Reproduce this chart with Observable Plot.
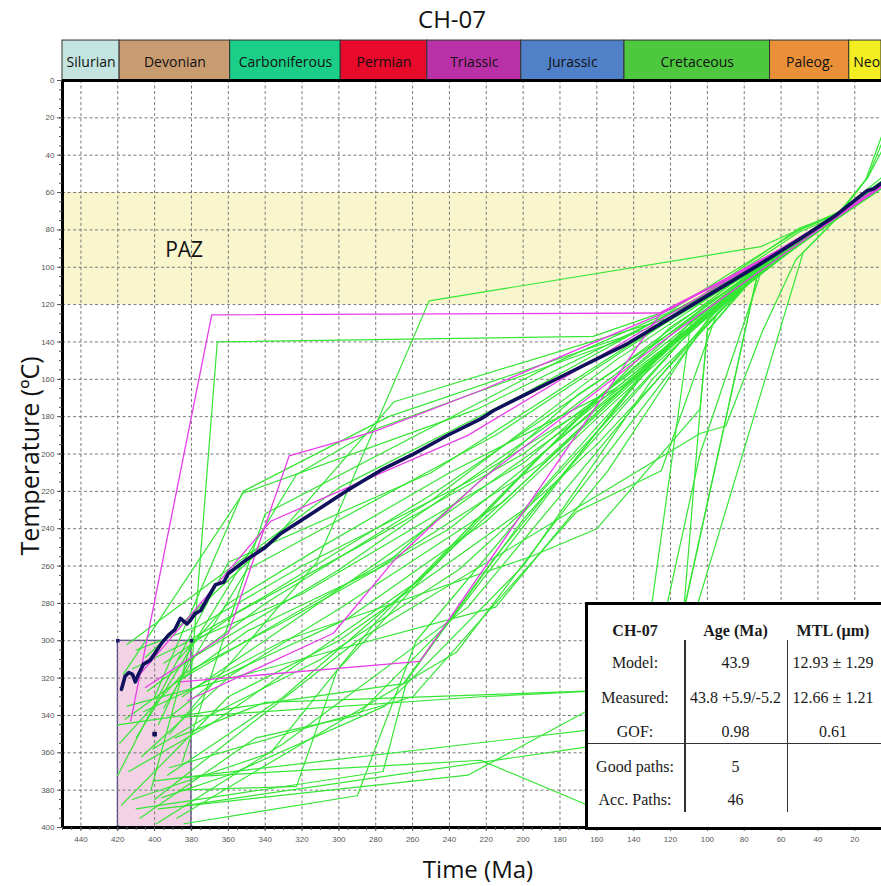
<!DOCTYPE html>
<html><head><meta charset="utf-8">
<script src="https://cdn.jsdelivr.net/npm/d3@7"></script>
<script src="https://cdn.jsdelivr.net/npm/@observablehq/plot@0.6"></script>
<style>
body{margin:0;background:#fff;overflow:hidden}
#wrap{position:relative;width:881px;height:886px;overflow:hidden;background:#fff}
#tbl{position:absolute;left:585px;top:602px;width:330px;height:222px;border:3px solid #000;background:#fff;font-family:"Liberation Serif","Times New Roman",serif;font-size:16px;color:#1a1a1a}
#tbl .c{position:absolute;transform:translate(-50%,-50%);white-space:nowrap}
#tbl .b{font-weight:bold}
#tbl .v{position:absolute;width:1.5px;background:#333}
#tbl .h{position:absolute;height:1.5px;background:#333;left:0;right:0}
</style></head><body><div id="wrap"></div><script>
// ---- data ----
const timeDomain = [450, 5.5];
const tempDomain = [0, 400];
const timeTicks = d3.range(440, 19, -20);
const timeMinorTicks = d3.range(450, 5, -5);
const tempTicks = d3.range(0, 401, 20);
const tempMinorTicks = d3.range(0, 401, 5);
const gridTemps = d3.range(20, 381, 20);

const periodNames = ["Silurian","Devonian","Carboniferous","Permian","Triassic","Jurassic","Cretaceous","Paleog.","Neo"];
const periodStart = [450, 419, 359, 299, 252, 201, 145, 66, 23];
const periodEnd   = [419, 359, 299, 252, 201, 145, 66, 23, 5.5];
const periodColors = ["#c4e4e0","#c89b70","#1bcf88","#e80a2a","#ba30a6","#5080c8","#4ec83e","#ea9038","#f2ee22"];
const headerTemp = [-21.4, 0];

const pazRange = [60, 120];
const pazLabel = {text: "PAZ", t: 384, T: 91};
const startBoxTime = [420, 380];
const startBoxTemp = [300, 400];
const measuredPoint = [400, 350];

const bestPath = [[418,326],[416,319],[414,317],[412,318],[410.5,322],[409,318.5],[406,312.5],[402.5,310.5],[400,307],[396,301],[392.5,297],[389,294],[386,288],[382.5,291],[381,289.5],[378,285.5],[375,283.8],[370,275],[367,270],[362.5,268.6],[360,264],[350,256.5],[340,250],[331.7,242.7],[313.6,231.2],[295.5,219.5],[277.4,208.8],[259.3,199.9],[241.2,190.1],[223,181.2],[216,176.7],[198,167.8],[180,158.9],[161.6,149.9],[143.5,141],[125.4,130.3],[107.4,119.6],[89.2,108.9],[71.2,98.2],[50,85],[30,72],[13.3,59],[9.7,58],[5.5,55]];

const goodPaths = [
 [[413,343],[369,125.5],[125,124.5],[60,92],[28,72],[5.5,57]],
 [[405,325],[360,296],[327,201],[281,188],[223,166],[125,125],[60,90],[28,71],[5.5,56]],
 [[386,322],[256,311],[125,124],[60,91],[28,72],[5.5,57]],
 [[382,332],[303,296],[270,257],[223,214],[125,140],[60,94],[28,72],[5.5,57]],
 [[408,318],[337,236],[300,220],[230,190],[125,128],[60,90],[28,71],[5.5,56]]
];

const accPaths = [
 [[380,316],[366,140],[162,137],[118,122],[50,80],[28,71],[5.5,55]],
 [[392,350],[312,258],[251,118],[71,89],[28,70],[5.5,54]],
 [[400,330],[352,220],[273,180],[130,132],[60,92],[28,72],[5.5,56]],
 [[417,318],[352,221],[225,176],[110,120],[50,79],[28,71],[5.5,55]],
 [[410,352],[323,211],[281,187],[150,140],[62,94],[28,72],[5.5,57]],
 [[385,365],[340,232],[180,150],[100,115],[60,91],[28,70],[5.5,52]],
 [[415,302],[300,218],[200,168],[90,108],[55,88],[28,71],[5.5,54]],
 [[405,309],[330,240],[270,172],[120,127],[50,81],[28,72],[5.5,56]],
 [[395,336],[350,262],[215,190],[120,128],[60,93],[28,73],[5.5,57]],
 [[420,372],[360,258],[250,210],[140,140],[65,96],[28,72],[5.5,55]],
 [[386,380],[323,378],[301,316],[230,240],[120,132],[60,94],[28,72],[5.5,55]],
 [[383,373],[223,364],[141,398],[48,92],[28,72],[5.5,56]],
 [[386,341],[223,330],[122,325],[72,100],[28,71],[5.5,55]],
 [[400,385],[290,300],[104,189],[90,185],[70,134],[52,96],[28,72],[5.5,55]],
 [[398,390],[230,372],[136,322],[109,130],[60,92],[28,71],[5.5,55]],
 [[415,335],[215,282],[154,209],[100,128],[60,93],[28,72],[5.5,56]],
 [[392,368],[260,330],[171,231],[125,209],[95,125],[60,92],[28,72],[5.5,55]],
 [[410,390],[276,370],[263,321],[200,235],[110,135],[60,94],[28,71],[5.5,54]],
 [[388,395],[236,306],[170,220],[100,130],[60,92],[28,73],[5.5,57]],
 [[420,345],[265,323],[215,255],[120,140],[60,95],[28,72],[5.5,56]],
 [[412,385],[337,360],[280,290],[190,200],[100,125],[60,90],[28,71],[5.5,55]],
 [[400,375],[166,348],[120,370],[104,177],[100,134],[70,100],[28,72],[5.5,56]],
 [[382,388],[166,357],[124,335],[72,100],[28,71],[5.5,55]],
 [[418,388],[360,330],[300,300],[200,230],[110,130],[60,92],[28,71],[5.5,55]],
 [[414,370],[370,345],[260,270],[150,170],[70,98],[28,70],[5.5,54]],
 [[408,395],[345,352],[290,340],[240,290],[130,150],[62,94],[28,72],[5.5,56]],
 [[402,380],[380,300],[320,275],[200,205],[110,128],[60,91],[28,71],[5.5,55]],
 [[398,345],[381,310],[300,262],[180,180],[100,120],[58,90],[28,70],[13,52],[5.5,38]],
 [[393,372],[330,330],[250,262],[160,170],[90,115],[60,93],[28,72],[5.5,57]],
 [[388,322],[350,300],[270,255],[170,168],[100,122],[60,91],[28,71],[5.5,55]],
 [[384,398],[290,383],[258,300],[190,220],[110,135],[60,95],[28,73],[5.5,58]],
 [[419,355],[385,318],[330,290],[240,240],[140,160],[65,96],[28,72],[5.5,56]],
 [[412,315],[385,302],[340,276],[250,222],[150,155],[80,104],[28,71],[5.5,54]],
 [[407,362],[358,318],[300,283],[210,225],[120,140],[60,93],[28,72],[5.5,56]],
 [[401,358],[372,341],[310,310],[235,262],[160,195],[80,110],[28,72],[5.5,55]],
 [[396,384],[360,372],[275,335],[200,260],[130,160],[65,96],[28,71],[5.5,55]],
 [[391,340],[365,320],[295,288],[220,236],[135,158],[70,100],[28,72],[5.5,56]],
 [[387,310],[360,280],[310,250],[240,210],[150,165],[90,118],[28,71],[5.5,55]],
 [[416,342],[350,295],[280,262],[190,205],[105,128],[60,92],[28,71],[5.5,54]],
 [[404,327],[340,280],[250,225],[150,150],[70,97],[28,71],[14,53],[5.5,30]],
 [[399,398],[330,355],[230,282],[140,175],[75,100],[28,71],[13,52],[5.5,34]],
 [[385,330],[330,293],[260,245],[175,185],[100,125],[60,92],[28,72],[5.5,57]],
 [[410,305],[376,292],[320,260],[230,215],[140,160],[70,100],[28,73],[5.5,57]],
 [[395,312],[355,285],[290,250],[200,200],[115,137],[60,95],[28,72],[5.5,56]],
 [[406,338],[378,325],[330,300],[196,255],[160,240],[104,176],[100,134],[70,99],[28,71],[5.5,55]],
 [[389,352],[340,333],[166,327],[135,340],[104,200],[70,100],[28,72],[5.5,56]]
];

const tableHeader = ["CH-07", "Age (Ma)", "MTL (µm)"];
const tableLabels = ["Model:", "Measured:", "GOF:", "Good paths:", "Acc. Paths:"];
const tableAge = ["43.9", "43.8 +5.9/-5.2", "0.98", "5", "46"];
const tableMtl = ["12.93 ± 1.29", "12.66 ± 1.21", "0.61", "", ""];

// ---- build ----
const toRows = (paths, kind) => paths.flatMap((p, i) => p.map(([t, T]) => ({t, T, id: kind + i})));
const accRows = toRows(accPaths, "a");
const goodRows = toRows(goodPaths, "g");
const bestRows = bestPath.map(([t, T]) => ({t, T}));
const periods = periodNames.map((name, i) => ({name, x1: periodStart[i], x2: periodEnd[i], color: periodColors[i]}));
const boxCorners = startBoxTime.flatMap(t => startBoxTemp.map(T => ({t, T})));
const headerMid = (headerTemp[0] + headerTemp[1]) / 2;

const sans = "'Open Sans', 'Noto Sans', sans-serif";

const chart = Plot.plot({
  width: 881, height: 886,
  marginLeft: 62, marginRight: 0, marginTop: 80, marginBottom: 59,
  style: {fontFamily: "'Liberation Sans', Arial, sans-serif", background: "white", overflow: "visible"},
  x: {domain: timeDomain},
  y: {domain: tempDomain, reverse: true},
  marks: [
    Plot.rect([{a: pazRange[0], b: pazRange[1]}], {x1: () => timeDomain[0], x2: () => timeDomain[1], y1: "a", y2: "b", fill: "#f9f5cc"}),
    Plot.rect([{}], {x1: () => startBoxTime[0], x2: () => startBoxTime[1], y1: () => startBoxTemp[0], y2: () => startBoxTemp[1], fill: "#f2d2e4", stroke: "#1c1c6c", strokeWidth: 1}),
    Plot.gridX(timeTicks, {stroke: "#7a7a7a", strokeOpacity: 1, strokeDasharray: "3,2.5", strokeWidth: 1}),
    Plot.gridY(gridTemps, {stroke: "#7a7a7a", strokeOpacity: 1, strokeDasharray: "3,2.5", strokeWidth: 1}),
    Plot.line(accRows, {x: "t", y: "T", z: "id", stroke: "#35e635", strokeWidth: 1.2}),
    Plot.line(goodRows, {x: "t", y: "T", z: "id", stroke: "#e83ee8", strokeWidth: 1.3}),
    Plot.line(bestRows, {x: "t", y: "T", stroke: "#10105c", strokeWidth: 3.6, strokeLinejoin: "round"}),
    Plot.dot(boxCorners, {x: "t", y: "T", symbol: "square", r: 2, fill: "#1c1c6c"}),
    Plot.dot([measuredPoint], {x: d => d[0], y: d => d[1], symbol: "square", r: 2.6, fill: "#10105c"}),
    Plot.text([pazLabel], {x: "t", y: "T", text: "text", fontSize: 21, fontFamily: sans, fill: "#111"}),
    // header
    Plot.rect(periods, {x1: "x1", x2: "x2", y1: () => headerTemp[0], y2: () => headerTemp[1], fill: "color", stroke: "#333", strokeWidth: 1}),
    Plot.text(periods.slice(0, -1), {x: d => (d.x1 + d.x2) / 2, y: () => headerMid, text: "name", dy: 2, fontSize: 14, fontFamily: sans, fill: "#111"}),
    Plot.text(periods.slice(-1), {x: "x1", y: () => headerMid, text: "name", textAnchor: "start", dx: 4, dy: 2, fontSize: 14, fontFamily: sans, fill: "#111"}),
    // frame
    Plot.ruleX([timeDomain[0]], {stroke: "#000", strokeWidth: 3}),
    Plot.ruleY([tempDomain[0], tempDomain[1]], {stroke: "#000", strokeWidth: 3}),
    // axes
    Plot.axisY(tempTicks, {anchor: "left", tickSize: 5, tickPadding: 3, fontSize: 8, color: "#555", label: null}),
    Plot.axisY(tempMinorTicks, {anchor: "left", tickSize: 3, tickFormat: () => "", color: "#555", label: null}),
    Plot.axisX(timeTicks, {anchor: "bottom", tickSize: 4, tickPadding: 5, fontSize: 8, color: "#555", label: null}),
    Plot.axisX(timeMinorTicks, {anchor: "bottom", tickSize: 3, tickFormat: () => "", color: "#555", label: null}),
    // titles
    Plot.text(["CH-07"], {frameAnchor: "top", text: d => d, lineAnchor: "middle", textAnchor: "middle", dy: -60, dx: -20, fontSize: 24, fontFamily: sans, fill: "#111"}),
    Plot.text(["Time (Ma)"], {frameAnchor: "bottom", text: d => d, lineAnchor: "middle", textAnchor: "middle", dy: 43, dx: 6, fontSize: 24, fontFamily: sans, fill: "#111"}),
    Plot.text(["Temperature (ºC)"], {frameAnchor: "left", text: d => d, lineAnchor: "middle", textAnchor: "middle", rotate: -90, dx: -32, dy: 2, fontSize: 25, fontFamily: sans, fill: "#111"})
  ]
});
const wrap = document.getElementById("wrap");
wrap.appendChild(chart);

// table overlay
const tbl = document.createElement("div");
tbl.id = "tbl";
const colX = [47, 147.5, 245];
const rowY = [25.7, 58.3, 93.3, 127.3, 161.7, 195];
function cell(text, x, y, bold) {
  const s = document.createElement("span");
  s.className = "c" + (bold ? " b" : "");
  s.textContent = text;
  s.style.left = x + "px";
  s.style.top = y + "px";
  tbl.appendChild(s);
}
tableHeader.forEach((h, j) => cell(h, colX[j], rowY[0], true));
tableLabels.forEach((l, i) => {
  cell(l, colX[0], rowY[i + 1]);
  cell(tableAge[i], colX[1], rowY[i + 1]);
  if (tableMtl[i]) cell(tableMtl[i], colX[2], rowY[i + 1]);
});
[96, 198.7].forEach(x => {
  const v = document.createElement("div");
  v.className = "v";
  v.style.left = x + "px"; v.style.top = "35px"; v.style.height = "172px";
  tbl.appendChild(v);
});
const h = document.createElement("div");
h.className = "h"; h.style.top = "137.7px";
tbl.appendChild(h);
wrap.appendChild(tbl);
</script></body></html>
